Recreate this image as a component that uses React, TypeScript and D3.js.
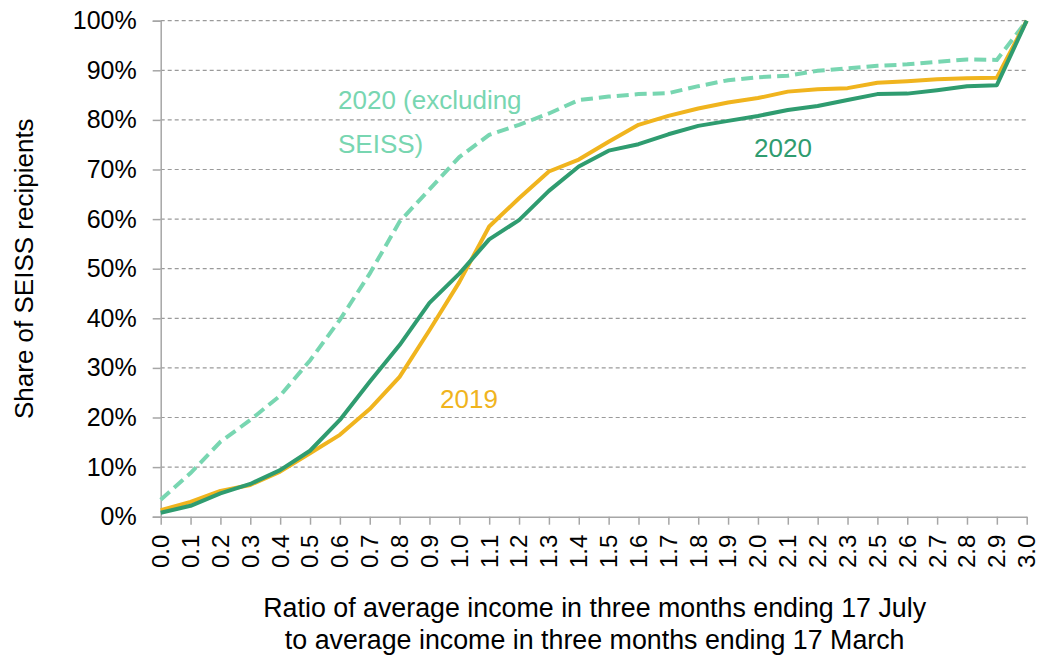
import { useEffect, useRef } from "react";
import * as d3 from "d3";

// x categories (note: 2.4 is absent in the source)
const ratios = [
  "0.0", "0.1", "0.2", "0.3", "0.4", "0.5", "0.6", "0.7", "0.8", "0.9",
  "1.0", "1.1", "1.2", "1.3", "1.4", "1.5", "1.6", "1.7", "1.8", "1.9",
  "2.0", "2.1", "2.2", "2.3", "2.5", "2.6", "2.7", "2.8", "2.9", "3.0",
];

// cumulative share of SEISS recipients, %
const share2020ExSeiss = [
  3.4, 8.8, 15.1, 19.5, 24.4, 31.5, 39.7, 49.0, 59.5, 66.0,
  72.5, 77.0, 79.0, 81.3, 84.0, 84.7, 85.2, 85.4, 86.8, 88.0,
  88.6, 88.9, 89.9, 90.4, 90.9, 91.2, 91.7, 92.2, 92.1, 100,
];
const share2019 = [
  1.3, 3.0, 5.2, 6.4, 9.1, 12.8, 16.5, 21.7, 28.2, 37.6,
  47.3, 58.5, 64.2, 69.6, 72.0, 75.6, 79.0, 80.8, 82.3, 83.5,
  84.4, 85.7, 86.2, 86.4, 87.5, 87.8, 88.2, 88.4, 88.5, 100,
];
const share2020 = [
  0.8, 2.2, 4.7, 6.6, 9.4, 13.3, 19.5, 27.2, 34.6, 43.1,
  49.0, 55.9, 59.8, 65.7, 70.6, 73.8, 75.1, 77.1, 78.8, 79.8,
  80.8, 82.0, 82.8, 84.0, 85.2, 85.3, 86.0, 86.8, 87.0, 100,
];

const yTicks = [0, 10, 20, 30, 40, 50, 60, 70, 80, 90, 100];

const FONT = "'Liberation Sans', Arial, sans-serif";
const DARK_GREEN = "#2f9c70";
const LIGHT_GREEN = "#78d6b1";
const GOLD = "#f0b41e";
const AXIS_GREY = "#a6a6a6";

export default function App() {
  const svgRef = useRef<SVGSVGElement>(null);

  useEffect(() => {
    if (!svgRef.current) return;
    const width = 1044;
    const height = 657;
    const svg = d3.select(svgRef.current);
    svg.selectAll("*").remove();
    svg.attr("width", width).attr("height", height);

    const left = 160.7;
    const right = 1026.7;
    const top = 20.7;
    const bottom = 516.7;

    const x = d3.scalePoint<string>().domain(ratios).range([left, right]);
    const y = d3.scaleLinear().domain([0, 100]).range([bottom, top]);

    // gridlines
    svg
      .append("g")
      .selectAll("line")
      .data(yTicks.filter((t) => t > 0))
      .join("line")
      .attr("x1", left)
      .attr("x2", right)
      .attr("y1", (d) => y(d))
      .attr("y2", (d) => y(d))
      .attr("stroke", "#9a9a9a")
      .attr("stroke-width", 1.2)
      .attr("stroke-dasharray", "4,3");

    // y axis
    const yAxis = svg
      .append("g")
      .attr("transform", `translate(${left},0)`)
      .call(
        d3
          .axisLeft(y)
          .tickValues(yTicks)
          .tickFormat((d) => `${d}%`)
          .tickSize(8)
          .tickPadding(16),
      );
    yAxis.select(".domain").attr("stroke", AXIS_GREY).attr("stroke-width", 1.5);
    yAxis.selectAll(".tick line").attr("stroke", AXIS_GREY).attr("stroke-width", 1.5);
    yAxis
      .selectAll(".tick text")
      .attr("font-family", FONT)
      .attr("font-size", 25)
      .attr("fill", "#000");

    // x axis
    const xAxis = svg
      .append("g")
      .attr("transform", `translate(0,${bottom})`)
      .call(d3.axisBottom(x).tickSize(8).tickSizeOuter(0).tickFormat(() => ""));
    xAxis.select(".domain").attr("stroke", AXIS_GREY).attr("stroke-width", 1.5);
    xAxis.selectAll(".tick line").attr("stroke", AXIS_GREY).attr("stroke-width", 1.5);

    svg
      .append("g")
      .selectAll("text")
      .data(ratios)
      .join("text")
      .attr("transform", (d) => `translate(${x(d)},${bottom + 18}) rotate(-90)`)
      .attr("text-anchor", "end")
      .attr("dy", "0.35em")
      .attr("font-family", FONT)
      .attr("font-size", 24)
      .attr("fill", "#000")
      .text((d) => d);

    // lines
    const line = d3
      .line<number>()
      .x((_, i) => x(ratios[i]) as number)
      .y((d) => y(d));

    svg
      .append("path")
      .attr("d", line(share2020ExSeiss))
      .attr("fill", "none")
      .attr("stroke", LIGHT_GREEN)
      .attr("stroke-width", 4)
      .attr("stroke-dasharray", "12,6");

    svg
      .append("path")
      .attr("d", line(share2019))
      .attr("fill", "none")
      .attr("stroke", GOLD)
      .attr("stroke-width", 4)
      .attr("stroke-linejoin", "round");

    svg
      .append("path")
      .attr("d", line(share2020))
      .attr("fill", "none")
      .attr("stroke", DARK_GREEN)
      .attr("stroke-width", 4)
      .attr("stroke-linejoin", "round");

    // series labels
    const labels = [
      { text: "2020 (excluding", x: 338, y: 109, color: LIGHT_GREEN },
      { text: "SEISS)", x: 338, y: 153, color: LIGHT_GREEN },
      { text: "2020", x: 754, y: 157, color: DARK_GREEN },
      { text: "2019", x: 440, y: 408, color: GOLD },
    ];
    labels.forEach((l) => {
      svg
        .append("text")
        .attr("x", l.x)
        .attr("y", l.y)
        .attr("font-family", FONT)
        .attr("font-size", 26)
        .attr("fill", l.color)
        .text(l.text);
    });

    // axis titles
    svg
      .append("text")
      .attr("transform", `translate(33,${(top + bottom) / 2}) rotate(-90)`)
      .attr("text-anchor", "middle")
      .attr("font-family", FONT)
      .attr("font-size", 26)
      .attr("fill", "#000")
      .text("Share of SEISS recipients");

    const titleLines = [
      "Ratio of average income in three months ending 17 July",
      "to average income in three months ending 17 March",
    ];
    titleLines.forEach((t, i) => {
      svg
        .append("text")
        .attr("x", (left + right) / 2 + 1)
        .attr("y", 617 + i * 31.5)
        .attr("text-anchor", "middle")
        .attr("font-family", FONT)
        .attr("font-size", 26.8)
        .attr("fill", "#000")
        .text(t);
    });
  }, []);

  return (
    <svg
      ref={svgRef}
      style={{ position: "absolute", left: 0, top: 0, display: "block", background: "#fff" }}
    />
  );
}
